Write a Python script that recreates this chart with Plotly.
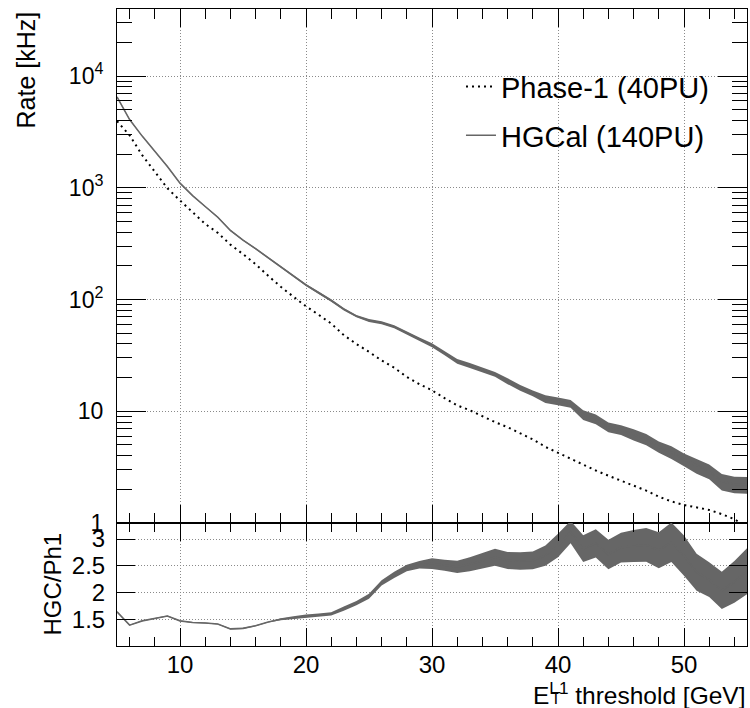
import plotly.graph_objects as go

# ---------------- data ----------------
threshold = list(range(5, 56))

phase1_rate = [3950, 2950, 1960, 1380, 990, 770, 600, 475, 395, 310,
               255, 207, 163, 130, 106, 87, 73, 61, 48, 40,
               34, 28.5, 24.5, 20.3, 17.5, 15.4, 13.1, 11.3, 10.2, 9.0,
               8.0, 7.2, 6.3, 5.6, 4.8, 4.25, 3.75, 3.3, 2.95, 2.65,
               2.38, 2.15, 1.95, 1.72, 1.56, 1.45, 1.38, 1.31, 1.2, 1.08,
               0.92]

hgcal_rate = [6500, 4080, 2900, 2110, 1550, 1100, 850, 680, 545, 415,
              340, 285, 237, 195, 162, 135, 115, 98, 82, 71,
              65, 62, 57, 50, 44, 39, 33, 28, 25.7, 23.4,
              21.4, 18.6, 16.2, 14.5, 12.9, 12.3, 11.7, 9.3, 8.5, 7.2,
              6.8, 6.2, 5.6, 4.8, 4.3, 3.7, 3.25, 2.9, 2.35, 2.22,
              2.2]

hgcal_rel_err = [0.01, 0.01, 0.01, 0.01, 0.01, 0.01, 0.01, 0.01, 0.015, 0.015,
                 0.015, 0.015, 0.015, 0.02, 0.02, 0.02, 0.025, 0.025, 0.025, 0.025,
                 0.03, 0.03, 0.03, 0.03, 0.04, 0.04, 0.04, 0.05, 0.05, 0.05,
                 0.05, 0.06, 0.06, 0.06, 0.08, 0.08, 0.08, 0.1, 0.1, 0.1,
                 0.1, 0.115, 0.115, 0.115, 0.13, 0.13, 0.15, 0.15, 0.17, 0.17,
                 0.17]

ratio = [1.64, 1.39, 1.47, 1.52, 1.56, 1.47, 1.44, 1.43, 1.41, 1.32,
         1.33, 1.38, 1.45, 1.50, 1.53, 1.56, 1.58, 1.60, 1.70, 1.80,
         1.93, 2.18, 2.33, 2.46, 2.52, 2.54, 2.51, 2.48, 2.53, 2.60,
         2.66, 2.60, 2.59, 2.60, 2.69, 2.88, 3.13, 2.82, 2.92, 2.71,
         2.84, 2.87, 2.89, 2.79, 2.94, 2.69, 2.38, 2.24, 2.04, 2.20,
         2.40]

ratio_err = [0.008, 0.008, 0.008, 0.008, 0.008, 0.008, 0.008, 0.008, 0.008, 0.01,
             0.01, 0.01, 0.012, 0.02, 0.025, 0.03, 0.03, 0.03, 0.04, 0.04,
             0.045, 0.05, 0.06, 0.06, 0.07, 0.1, 0.105, 0.115, 0.13, 0.145,
             0.16, 0.16, 0.165, 0.165, 0.19, 0.22, 0.21, 0.25, 0.265, 0.275,
             0.28, 0.3, 0.315, 0.335, 0.37, 0.375, 0.345, 0.325, 0.35, 0.39,
             0.43]

y_tickvals = [1, 10, 100, 1000, 10000]
y_ticktext = ["1", "10", "10<sup>2</sup>", "10<sup>3</sup>", "10<sup>4</sup>"]
y_minor = [m * 10 ** d for d in range(0, 5) for m in range(2, 10)]
ratio_ticks = [1.5, 2, 2.5, 3]

# ---------------- figure ----------------
FONT = "Liberation Sans, Arial, Helvetica, sans-serif"
GRAY = "#666666"
GRID = "#8a8a8a"
GDASH = "1px,2px"
TICKC = "black"
TW = 1.2

hg_up = [r * (1 + e) for r, e in zip(hgcal_rate, hgcal_rel_err)]
hg_lo = [r * (1 - e) for r, e in zip(hgcal_rate, hgcal_rel_err)]
ra_up = [r + e for r, e in zip(ratio, ratio_err)]
ra_lo = [r - e for r, e in zip(ratio, ratio_err)]

fig = go.Figure()

fig.add_trace(go.Scatter(x=threshold, y=hg_lo, mode="lines", line=dict(width=0, color=GRAY),
                         showlegend=False, hoverinfo="skip", xaxis="x", yaxis="y"))
fig.add_trace(go.Scatter(x=threshold, y=hg_up, mode="lines", line=dict(width=0, color=GRAY),
                         fill="tonexty", fillcolor=GRAY, showlegend=False, hoverinfo="skip",
                         xaxis="x", yaxis="y"))
fig.add_trace(go.Scatter(x=threshold, y=phase1_rate, mode="lines", name="Phase-1 (40PU)",
                         line=dict(color="black", width=2, dash="2px,4px"),
                         legendgroup="a", xaxis="x", yaxis="y"))
fig.add_trace(go.Scatter(x=threshold, y=hgcal_rate, mode="lines", name="HGCal (140PU)",
                         line=dict(color=GRAY, width=1.6), legendgroup="b",
                         xaxis="x", yaxis="y"))

fig.add_trace(go.Scatter(x=threshold, y=ra_lo, mode="lines", line=dict(width=0, color=GRAY),
                         showlegend=False, hoverinfo="skip", xaxis="x2", yaxis="y2"))
fig.add_trace(go.Scatter(x=threshold, y=ra_up, mode="lines", line=dict(width=0, color=GRAY),
                         fill="tonexty", fillcolor=GRAY, showlegend=False, hoverinfo="skip",
                         xaxis="x2", yaxis="y2"))
fig.add_trace(go.Scatter(x=threshold, y=ratio, mode="lines", line=dict(width=1.6, color=GRAY),
                         showlegend=False, hoverinfo="skip", xaxis="x2", yaxis="y2"))

split = 123 / 637

common_x = dict(range=[5, 55], tick0=0, dtick=10, ticks="inside", tickcolor=TICKC,
                tickwidth=TW, showline=True, linecolor="black", linewidth=1, mirror="ticks",
                showgrid=True, gridcolor=GRID, griddash=GDASH, gridwidth=1, zeroline=False)

fig.update_layout(
    width=750, height=708,
    paper_bgcolor="white", plot_bgcolor="white",
    margin=dict(l=117, r=3, t=9, b=62),
    font=dict(family=FONT, size=23, color="black"),
    xaxis=dict(common_x, domain=[0, 1], anchor="y", showticklabels=False, ticklen=18,
               minor=dict(ticks="inside", ticklen=10, dtick=2, tick0=0, tickcolor=TICKC,
                          tickwidth=TW, showgrid=False)),
    xaxis2=dict(common_x, domain=[0, 1], anchor="y2", matches="x", ticklen=18,
                ticklabelstandoff=-3, tickfont=dict(size=24),
                minor=dict(ticks="inside", ticklen=9, dtick=2, tick0=0, tickcolor=TICKC,
                           tickwidth=TW, showgrid=False)),
    yaxis=dict(type="log", range=[0, 4.6], domain=[split, 1], anchor="x",
               tickmode="array", tickvals=y_tickvals, ticktext=y_ticktext,
               ticks="inside", ticklen=29, tickcolor=TICKC, tickwidth=TW,
               showline=True, linecolor="black", linewidth=1, mirror="ticks",
               showgrid=True, gridcolor=GRID, griddash=GDASH, gridwidth=1,
               ticklabelstandoff=8,
               minor=dict(ticks="inside", ticklen=15, tickmode="array", tickvals=y_minor,
                          tickcolor=TICKC, tickwidth=TW, showgrid=False)),
    yaxis2=dict(range=[1, 3.3], domain=[0, split], anchor="x2",
                tickmode="array", tickvals=ratio_ticks, ticktext=["1.5", "2", "2.5", "3"],
                ticks="inside", ticklen=18, tickcolor=TICKC, tickwidth=TW,
                showline=True, linecolor="black", linewidth=1, mirror="ticks",
                showgrid=True, gridcolor=GRID, griddash=GDASH, gridwidth=1,
                ticklabelstandoff=6, zeroline=False, tickfont=dict(size=24)),
    legend=dict(x=0.546, y=0.918, xanchor="left", yanchor="top",
                bgcolor="rgba(0,0,0,0)", borderwidth=0,
                font=dict(family=FONT, size=29), tracegroupgap=8, itemwidth=30),
    showlegend=True,
)

fig.add_annotation(text="Rate [kHz]", xref="paper", yref="paper", x=0, y=1,
                   xshift=-92, yshift=-1, xanchor="center", yanchor="top",
                   textangle=-90, showarrow=False, font=dict(size=25))
fig.add_annotation(text="HGC/Ph1", xref="paper", yref="paper", x=0, y=split / 2,
                   xshift=-65, xanchor="center", yanchor="middle",
                   textangle=-90, showarrow=False, font=dict(size=24))
fig.add_annotation(text="E<sup>L1</sup> threshold [GeV]", xref="paper", yref="paper",
                   x=1, y=0, xanchor="right", yanchor="top", yshift=-30,
                   showarrow=False, font=dict(size=24.5))
fig.add_annotation(text="T", xref="paper", yref="paper", x=(556 - 117) / 630, y=0,
                   xanchor="center", yanchor="middle", yshift=-52,
                   showarrow=False, font=dict(size=16))

fig.write_html("out.html", config={"displayModeBar": False},
               post_script="document.body.style.margin='0';")
